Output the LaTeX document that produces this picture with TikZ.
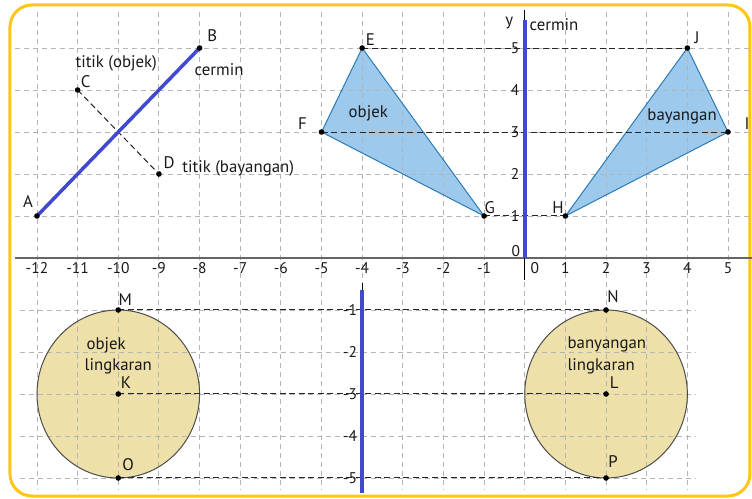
\documentclass[tikz,border=0pt]{standalone}
\usepackage{fontspec}
\setmainfont{PT Sans}
\definecolor{mirrorblue}{HTML}{4049CF}
\definecolor{trifill}{HTML}{9DC9EC}
\definecolor{tristroke}{HTML}{2C7BB6}
\definecolor{circfill}{HTML}{EEE0A9}
\definecolor{framecol}{HTML}{FFC517}
\definecolor{gridgray}{HTML}{B4B4B4}
\begin{document}
\begin{tikzpicture}[x=40.65pt, y=42pt,
  gridline/.style={gridgray, line width=0.9pt, dash pattern=on 5pt off 4pt},
  projline/.style={black!85, line width=1pt, dash pattern=on 6pt off 3.5pt},
  mirrorline/.style={mirrorblue, line width=3.5pt},
  axisline/.style={black!60, line width=1.2pt},
  ticklinee/.style={black, line width=0.9pt},
  lbl/.style={font=\fontsize{16.8}{19}\selectfont, inner sep=0pt, text=black!90},
  num/.style={font=\fontsize{15.5}{18}\selectfont, inner sep=0pt, text=black!90},
  dotmark/.style={fill=black}
]
\useasboundingbox (-12.910,-5.738) rectangle (5.590,6.143);
% frame
\draw[framecol, line width=3pt, rounded corners=22pt] (-12.664,-5.667) rectangle (5.540,6.024);

% points (top system)
\coordinate (A) at (-12,1);
\coordinate (B) at (-8,5);
\coordinate (C) at (-11,4);
\coordinate (D) at (-9,2);
\coordinate (E) at (-4,5);
\coordinate (F) at (-5,3);
\coordinate (G) at (-1,1);
\coordinate (H) at (1,1);
\coordinate (I) at (5,3);
\coordinate (J) at (4,5);
\coordinate (O0) at (0,0);
\coordinate (ytop) at (0,5.667);
% lower system
\begin{scope}[yshift=-10pt]
\coordinate (M) at (-10,-1);
\coordinate (K) at (-10,-3);
\coordinate (O) at (-10,-5);
\coordinate (N) at (2,-1);
\coordinate (L) at (2,-3);
\coordinate (P) at (2,-5);
\coordinate (mtop) at (-4,-0.524);
\coordinate (mbot) at (-4,-5.357);
\end{scope}

% fills
\fill[trifill] (E) -- (F) -- (G) -- cycle;
\fill[trifill] (H) -- (I) -- (J) -- cycle;
\fill[circfill] (K) ellipse [x radius=81.3pt, y radius=84pt];
\fill[circfill] (L) ellipse [x radius=81.3pt, y radius=84pt];

% grid
\foreach \i in {-12,...,4} \draw[gridline] (\i,5.86) -- (\i,-5.524);
\draw[gridline] (5,5.86) -- (5,-0.1);
\foreach \j in {1,...,5} \draw[gridline] (-12.54,\j) -- (5.59,\j);
\begin{scope}[yshift=-10pt]
\foreach \j in {-1,...,-5} \draw[gridline] (-12.42,\j) -- (4.19,\j);
\end{scope}

% outlines
\draw[tristroke, line width=1pt, line join=round] (E) -- (F) -- (G) -- cycle;
\draw[tristroke, line width=1pt, line join=round] (H) -- (I) -- (J) -- cycle;
\draw[black!70, line width=1pt] (K) ellipse [x radius=81.3pt, y radius=84pt];
\draw[black!70, line width=1pt] (L) ellipse [x radius=81.3pt, y radius=84pt];

% axis
\draw[axisline] (-12.54,0) -- (5.59,0);

% projection lines
\draw[projline] (C) -- (D);
\draw[projline] (E) -- (J);
\draw[projline] (F) -- (I);
\draw[projline] (G) -- (H);
\draw[projline] (M) -- (N);
\draw[projline] (K) -- (L);
\draw[projline] (O) -- (P);

% mirrors
\draw[mirrorline, line cap=round] (A) -- (B);
\draw[mirrorline] (O0) -- (ytop);
\draw[ticklinee] (ytop) -- ++(0,0.24);
\draw[ticklinee] (O0) -- ++(0,-0.524);
\draw[mirrorline] (mtop) -- (mbot);
\draw[ticklinee] (mtop) -- ++(0,0.16);

% dots
\foreach \p in {A,B,C,D,E,F,G,H,I,J,M,K,O,N,L,P}
  \fill[dotmark] (\p) circle[radius=2.8pt];

% axis numbers
\foreach \i in {-12,...,-1} \node[num] (xl\i) at (\i,-0.238) {\i};
\node[num] (xl0) at (0.25,-0.238) {0};
\foreach \i in {1,...,5} \node[num] (xl\i) at (\i,-0.238) {\i};
\foreach \j in {1,...,5} \node[num] (yl\j) at (-0.24,\j) {\j};
\node[num] (yl0) at (-0.22,0.17) {0};
\begin{scope}[yshift=-10pt]
\foreach \j in {-1,...,-5} \node[num] (ml\j) at (-4.3,\j) {\j};
\end{scope}

% labels top
\node[lbl] (lA) at (-12.22,1.333) {A};
\node[lbl] (lB) at (-7.69,5.286) {B};
\node[lbl] (lcer1) at (-7.52,4.476) {cermin};
\node[lbl] (lto) at (-10.05,4.64) {titik (objek)};
\node[lbl] (lC) at (-10.80,4.19) {C};
\node[lbl] (lD) at (-8.75,2.26) {D};
\node[lbl] (ltb) at (-7.05,2.14) {titik (bayangan)};
\node[lbl] (lE) at (-3.80,5.19) {E};
\node[lbl] (lF) at (-5.47,3.21) {F};
\node[lbl] (lobj) at (-3.85,3.45) {objek};
\node[lbl] (lG) at (-0.86,1.21) {G};
\node[lbl] (lH) at (0.82,1.19) {H};
\node[lbl] (lJ) at (4.24,5.24) {J};
\node[lbl] (lbay) at (3.87,3.38) {bayangan};
\node[lbl] (lI) at (5.47,3.21) {I};
\node[lbl] (ly) at (-0.38,5.60) {y};
\node[lbl] (lcer2) at (0.72,5.55) {cermin};
% labels lower
\begin{scope}[yshift=-10pt]
\node[lbl] (lM) at (-9.83,-0.76) {M};
\node[lbl] (lobj2) at (-10.30,-1.83) {objek};
\node[lbl] (lling1) at (-10.0,-2.33) {lingkaran};
\node[lbl] (lK) at (-9.81,-2.74) {K};
\node[lbl] (lO) at (-9.76,-4.69) {O};
\node[lbl] (lN) at (2.17,-0.69) {N};
\node[lbl] (lban) at (2.02,-1.83) {banyangan};
\node[lbl] (lling2) at (1.88,-2.33) {lingkaran};
\node[lbl] (lL) at (2.20,-2.74) {L};
\node[lbl] (lP) at (2.17,-4.62) {P};
\end{scope}
\end{tikzpicture}
\end{document}
